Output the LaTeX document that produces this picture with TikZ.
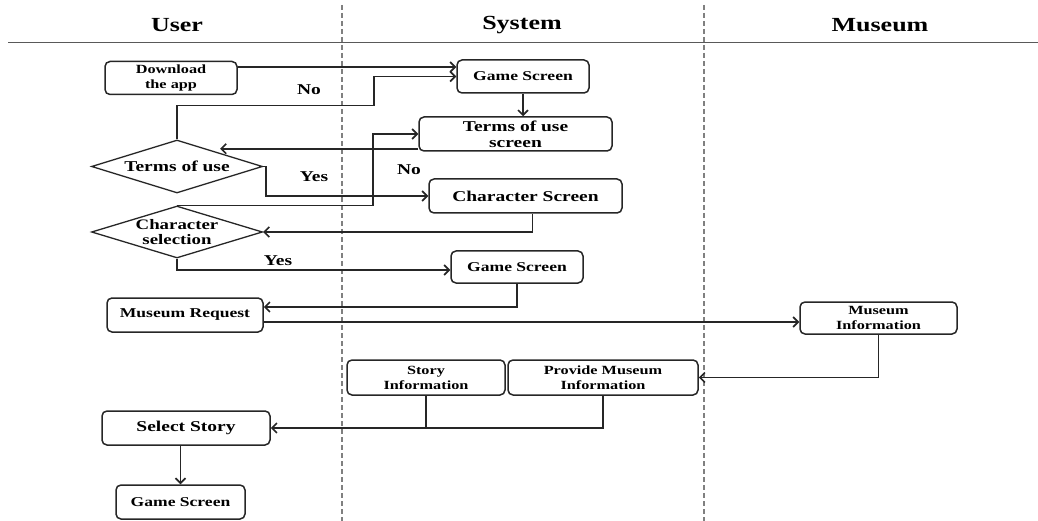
\documentclass[tikz,border=0pt]{standalone}
\usepackage{fontspec}
\setmainfont[FakeStretch=1.3]{Liberation Serif}
\usetikzlibrary{arrows.meta,shapes.geometric}

\begin{document}
\begin{tikzpicture}[x = 1pt, y = -1pt,
        box/.style={draw=black!85, rounded corners=5pt, line width=1.5pt, align=center, inner sep=0pt, font=\bfseries\fontsize{13.5}{14}\selectfont},
        choice/.style={draw=black!85, diamond, aspect=3.2, line width=1.3pt, align=center, inner sep=0pt, font=\bfseries\fontsize{15}{15}\selectfont},
        small/.style={font=\bfseries\fontsize{12.5}{15}\selectfont},
        large/.style={font=\bfseries\fontsize{15}{16}\selectfont},
        lane/.style={draw=gray, line width=1.5pt, dash pattern=on 5pt off 3pt},
        lbl/.style={font=\bfseries\fontsize{15}{14}\selectfont},
        head/.style={font=\bfseries\fontsize{20}{20}\selectfont},
        arr/.style={-{Straight Barb[length=5pt,width=10pt]}, line width=1.6pt, draw=black!85}
]
    \useasboundingbox (0,0) rectangle (1038,521);
    \draw[lane] (342,5) -- (342,521);
    \draw[lane] (704,5) -- (704,521);
    \draw[gray!70!black, line width=1pt] (8,43) -- (1038,43);

    \node[head] (user) at (177,25) {User};
    \node[head] (system) at (522,25) {System};
    \node[head] (museum) at (880,25) {Museum};

    \node[box, small, minimum width=132, minimum height=33] (dl) at (171,78) {Download\\the app};
    \node[box, minimum width=132, minimum height=33] (gs1) at (523,76.5) {Game Screen};
    \node[box, large, minimum width=193, minimum height=34] (tous) at (515.5,134) {Terms of use\\screen};
    \node[box, large, minimum width=193, minimum height=34] (chs) at (525.5,196) {Character Screen};
    \node[choice, minimum width=171, minimum height=53] (tou) at (177,166.5) {Terms of use};
    \node[choice, font=\bfseries\fontsize{14.5}{15}\selectfont, minimum width=171, minimum height=52] (cs) at (177,232) {Character\\selection};
    \node[box, minimum width=132, minimum height=32] (gs2) at (517,267) {Game Screen};
    \node[box, minimum width=156, minimum height=34] (mr) at (185,315) {Museum Request};
    \node[box, small, minimum width=157, minimum height=32] (mi) at (878.5,318) {Museum\\Information};
    \node[box, small, minimum width=158, minimum height=35] (si) at (426,377.5) {Story\\Information};
    \node[box, small, minimum width=190, minimum height=35] (pmi) at (603,377.5) {Provide Museum\\Information};
    \node[box, large, minimum width=168, minimum height=34] (ss) at (186,428) {Select Story};
    \node[box, minimum width=129, minimum height=34] (gs3) at (180.5,502) {Game Screen};

    \node[lbl] (no1) at (309,90) {No};
    \node[lbl] (yes1) at (314,177) {Yes};
    \node[lbl] (no2) at (409,170) {No};
    \node[lbl] (yes2) at (278,261) {Yes};

\begin{scope}[every path/.style={arr}]
    \draw ([yshift=11pt]dl.east) -- ([yshift=11pt]dl.east -| gs1.west);
    \draw (tou.north) -- ++(0,-34) -| ([xshift=-82pt]gs1.west) -- (gs1.west);
    \draw (gs1.south) -- (gs1.south |- tous.north);
    \draw ([yshift=3pt]tous.south west) -- ([yshift=3pt]tous.south west -| tou.north east);
    \draw (cs.north) -| ([xshift=-45pt]tous.west) -- (tous.west);
    \draw (tou.east) -- ++(3,0) |- (chs.west);
    \draw ([xshift=7pt]chs.south) |- (cs.east);
    \draw (cs.south) |- ([yshift=-3pt]gs2.west);
    \draw (gs2.south) |- ([yshift=8pt]mr.east);
    \draw ([yshift=-7pt]mr.east) -- ([yshift=-7pt]mr.east -| mi.west);
    \draw (mi.south) |- (pmi.east);
    \draw (pmi.south) |- (ss.east);
    \draw[-] (si.south) -- (si.south |- ss.east);
    \draw (gs3.north |- ss.south) -- (gs3.north);
\end{scope}

\end{tikzpicture}
\end{document}
